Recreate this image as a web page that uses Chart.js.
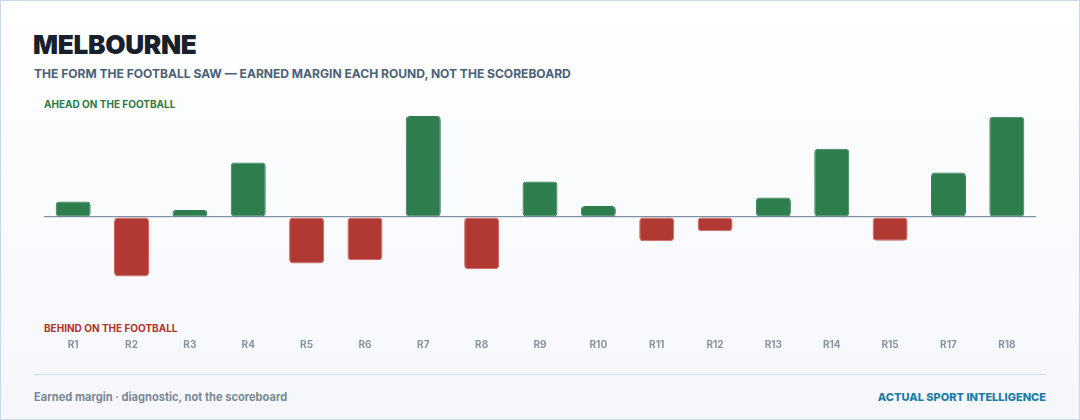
<!DOCTYPE html>
<html><head><meta charset="utf-8">
<script src="https://cdn.jsdelivr.net/npm/chart.js@4.4.1/dist/chart.umd.min.js"></script>
<style>
html,body{margin:0;padding:0;}
body{width:1080px;height:420px;overflow:hidden;font-family:Inter,"Noto Sans",sans-serif;}
#card{position:absolute;left:0;top:0;width:1078px;height:418px;border:1px solid #c9d8e6;background:linear-gradient(#ffffff,#f5f7fb);}
#title{position:absolute;left:33px;top:29px;font-size:26.2px;font-weight:900;color:#17202b;letter-spacing:-0.3px;line-height:32px;}
#sub{position:absolute;left:34px;top:66px;font-size:12.05px;font-weight:700;color:#4b6177;line-height:16px;}
.lab{position:absolute;left:44px;font-size:10px;font-weight:700;line-height:12px;}
#ahead{top:98px;color:#2d7a45;}
#behind{top:322px;color:#b3312b;}
#wrap{position:absolute;left:0;top:96px;width:1080px;height:277px;}
#sep{position:absolute;left:34px;top:374px;width:1012px;height:1px;background:#cfdbe7;}
#fl{position:absolute;left:34px;top:390px;font-size:11.1px;font-weight:700;color:#7b8794;line-height:14px;}
#fr{position:absolute;right:34px;top:390px;font-size:11px;font-weight:800;color:#1a7da6;line-height:14px;}
</style></head>
<body>
<div id="card"></div>
<div id="title">MELBOURNE</div>
<div id="sub">THE FORM THE FOOTBALL SAW — EARNED MARGIN EACH ROUND, NOT THE SCOREBOARD</div>
<div class="lab" id="ahead">AHEAD ON THE FOOTBALL</div>
<div class="lab" id="behind">BEHIND ON THE FOOTBALL</div>
<div id="wrap"><canvas id="c"></canvas></div>
<div id="sep"></div>
<div id="fl">Earned margin · diagnostic, not the scoreboard</div>
<div id="fr">ACTUAL SPORT INTELLIGENCE</div>
<script>
const rounds = ["R1","R2","R3","R4","R5","R6","R7","R8","R9","R10","R11","R12","R13","R14","R15","R17","R18"];
const margins = [5.9,-22.7,2.7,20.8,-17.7,-16.5,38.5,-19.9,13.5,4.2,-9.2,-5.4,7.4,26.0,-9.0,17.0,38.2];
const yMin = -40, yMax = 40;
const GREEN = "#2e7d4e", RED = "#b03a33";

new Chart(document.getElementById("c"), {
  type: "bar",
  data: {
    labels: rounds,
    datasets: [{
      data: margins,
      backgroundColor: margins.map(v => v >= 0 ? GREEN : RED),
      borderColor: margins.map(v => v >= 0 ? GREEN : "rgba(200,70,62,0.85)"),
      borderWidth: 1,
      borderRadius: 4,
      borderSkipped: false,
      barPercentage: 0.6,
      categoryPercentage: 1.0
    }]
  },
  options: {
    responsive: true,
    maintainAspectRatio: false,
    animation: false,
    layout: { padding: { left: 44, right: 44, top: 16, bottom: 5 } },
    plugins: { legend: { display: false }, tooltip: { enabled: false } },
    scales: {
      x: {
        grid: { display: false, drawTicks: false },
        border: { display: false },
        ticks: { color: "#8794a2", font: { family: "Inter", size: 10, weight: "700" }, padding: 17, maxRotation: 0 }
      },
      y: {
        min: yMin, max: yMax,
        afterFit: s => { s.width = 0; },
        ticks: { display: false, stepSize: 10 },
        border: { display: false },
        grid: { drawTicks: false, lineWidth: 1.2, color: ctx => ctx.tick && ctx.tick.value === 0 ? "#7f92a6" : "rgba(0,0,0,0)" }
      }
    }
  }
});
</script>
</body></html>
